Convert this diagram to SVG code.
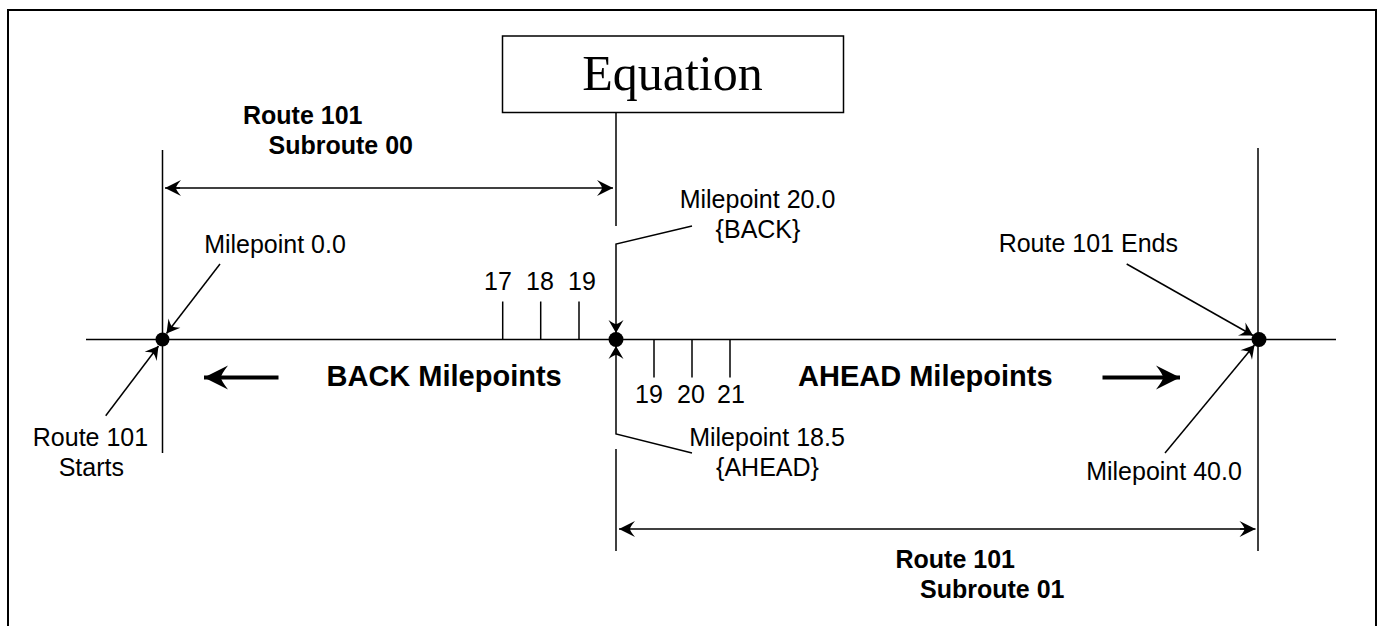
<svg xmlns="http://www.w3.org/2000/svg" width="1380" height="626" viewBox="0 0 1380 626">
<style>
.ln{stroke:#000;stroke-width:1.5;fill:none}
.t{font-family:"Liberation Sans",Arial,sans-serif;font-size:25px;fill:#000}
.b{font-family:"Liberation Sans",Arial,sans-serif;font-size:25px;font-weight:bold;fill:#000}
.bb{font-family:"Liberation Sans",Arial,sans-serif;font-size:29px;font-weight:bold;fill:#000}
.m{text-anchor:middle}
</style>
<defs>
<marker id="aS" markerUnits="userSpaceOnUse" markerWidth="30" markerHeight="30" refX="0" refY="0" orient="auto" overflow="visible">
<path d="M0,0 L-13,-7.5 Q-9,-2 -9,0 Q-9,2 -13,7.5 Z" fill="#000"/>
</marker>
<marker id="aD" markerUnits="userSpaceOnUse" markerWidth="30" markerHeight="30" refX="0" refY="0" orient="auto" overflow="visible">
<path d="M0,0 L-16,-8 Q-11,-2 -11,0 Q-11,2 -16,8 Z" fill="#000"/>
</marker>
<marker id="aB" markerUnits="userSpaceOnUse" markerWidth="40" markerHeight="40" refX="0" refY="0" orient="auto" overflow="visible">
<path d="M0,0 L-24,-12 Q-17,-3 -17,0 Q-17,3 -24,12 Z" fill="#000"/>
</marker>
</defs>
<rect x="8" y="10" width="1368" height="700" fill="#fff" stroke="#000" stroke-width="2"/>

<g id="baseline">
<line class="ln" x1="86" y1="339.5" x2="1336" y2="339.5"/>
<line class="ln" x1="162.5" y1="150" x2="162.5" y2="453"/>
<line class="ln" x1="1258" y1="148" x2="1258" y2="551"/>
<line class="ln" x1="616" y1="112" x2="616" y2="226"/>
<line class="ln" x1="616" y1="449" x2="616" y2="551"/>
</g>

<g id="equation">
<rect x="502.5" y="36" width="341" height="76.5" fill="#fff" stroke="#000" stroke-width="1.5"/>
<text x="672.5" y="90" class="m" style="font-family:'Liberation Serif','Times New Roman',serif;font-size:50px;fill:#000">Equation</text>
</g>

<g id="ticks">
<line class="ln" x1="502.7" y1="301.5" x2="502.7" y2="339.5"/>
<line class="ln" x1="540.7" y1="301.5" x2="540.7" y2="339.5"/>
<line class="ln" x1="579" y1="301.5" x2="579" y2="339.5"/>
<line class="ln" x1="654" y1="339.5" x2="654" y2="377.5"/>
<line class="ln" x1="692" y1="339.5" x2="692" y2="377.5"/>
<line class="ln" x1="730" y1="339.5" x2="730" y2="377.5"/>
<text class="t m" x="498" y="290">17</text>
<text class="t m" x="540" y="290">18</text>
<text class="t m" x="582" y="290">19</text>
<text class="t m" x="649" y="403">19</text>
<text class="t m" x="691" y="403">20</text>
<text class="t m" x="731" y="403">21</text>
</g>

<g id="connectors">
<line class="ln" x1="180" y1="188" x2="165" y2="188" marker-end="url(#aD)"/>
<line class="ln" x1="170" y1="188" x2="613" y2="188" marker-end="url(#aD)"/>
<line class="ln" x1="1240" y1="529" x2="1255.5" y2="529" marker-end="url(#aD)"/>
<line class="ln" x1="1245" y1="529" x2="619" y2="529" marker-end="url(#aD)"/>
<polyline class="ln" points="692,226 616,244 616,333" marker-end="url(#aS)"/>
<polyline class="ln" points="692,453 616,434 616,346" marker-end="url(#aS)"/>
<line class="ln" x1="220" y1="264" x2="166.5" y2="333.5" marker-end="url(#aS)"/>
<line class="ln" x1="105.7" y1="415.7" x2="158.5" y2="346" marker-end="url(#aS)"/>
<line class="ln" x1="1126.7" y1="264" x2="1253" y2="335.5" marker-end="url(#aS)"/>
<line class="ln" x1="1165" y1="453" x2="1254.5" y2="345" marker-end="url(#aS)"/>
<line x1="278.5" y1="377.5" x2="204" y2="377.5" stroke="#000" stroke-width="4" marker-end="url(#aB)"/>
<line x1="1102.5" y1="377.5" x2="1180" y2="377.5" stroke="#000" stroke-width="4" marker-end="url(#aB)"/>
</g>

<g id="dots">
<circle cx="162.5" cy="339.5" r="7" fill="#000"/>
<circle cx="616" cy="339.5" r="7.5" fill="#000"/>
<circle cx="1259" cy="339.5" r="7.5" fill="#000"/>
</g>

<g id="labels">
<text class="b" x="243" y="124">Route 101</text>
<text class="b" x="268.5" y="154">Subroute 00</text>
<text class="b" x="895.5" y="568">Route 101</text>
<text class="b" x="920" y="598">Subroute 01</text>
<text class="bb" x="326.5" y="386">BACK Milepoints</text>
<text class="bb" x="798" y="386">AHEAD Milepoints</text>
<text class="t m" x="275" y="253">Milepoint 0.0</text>
<text class="t m" x="757.5" y="208">Milepoint 20.0</text>
<text class="t m" x="758" y="238">{BACK}</text>
<text class="t m" x="1088.3" y="252">Route 101 Ends</text>
<text class="t m" x="90.5" y="446">Route 101</text>
<text class="t m" x="91.3" y="476">Starts</text>
<text class="t m" x="767" y="446">Milepoint 18.5</text>
<text class="t m" x="767.5" y="476">{AHEAD}</text>
<text class="t m" x="1164" y="480">Milepoint 40.0</text>
</g>
</svg>
